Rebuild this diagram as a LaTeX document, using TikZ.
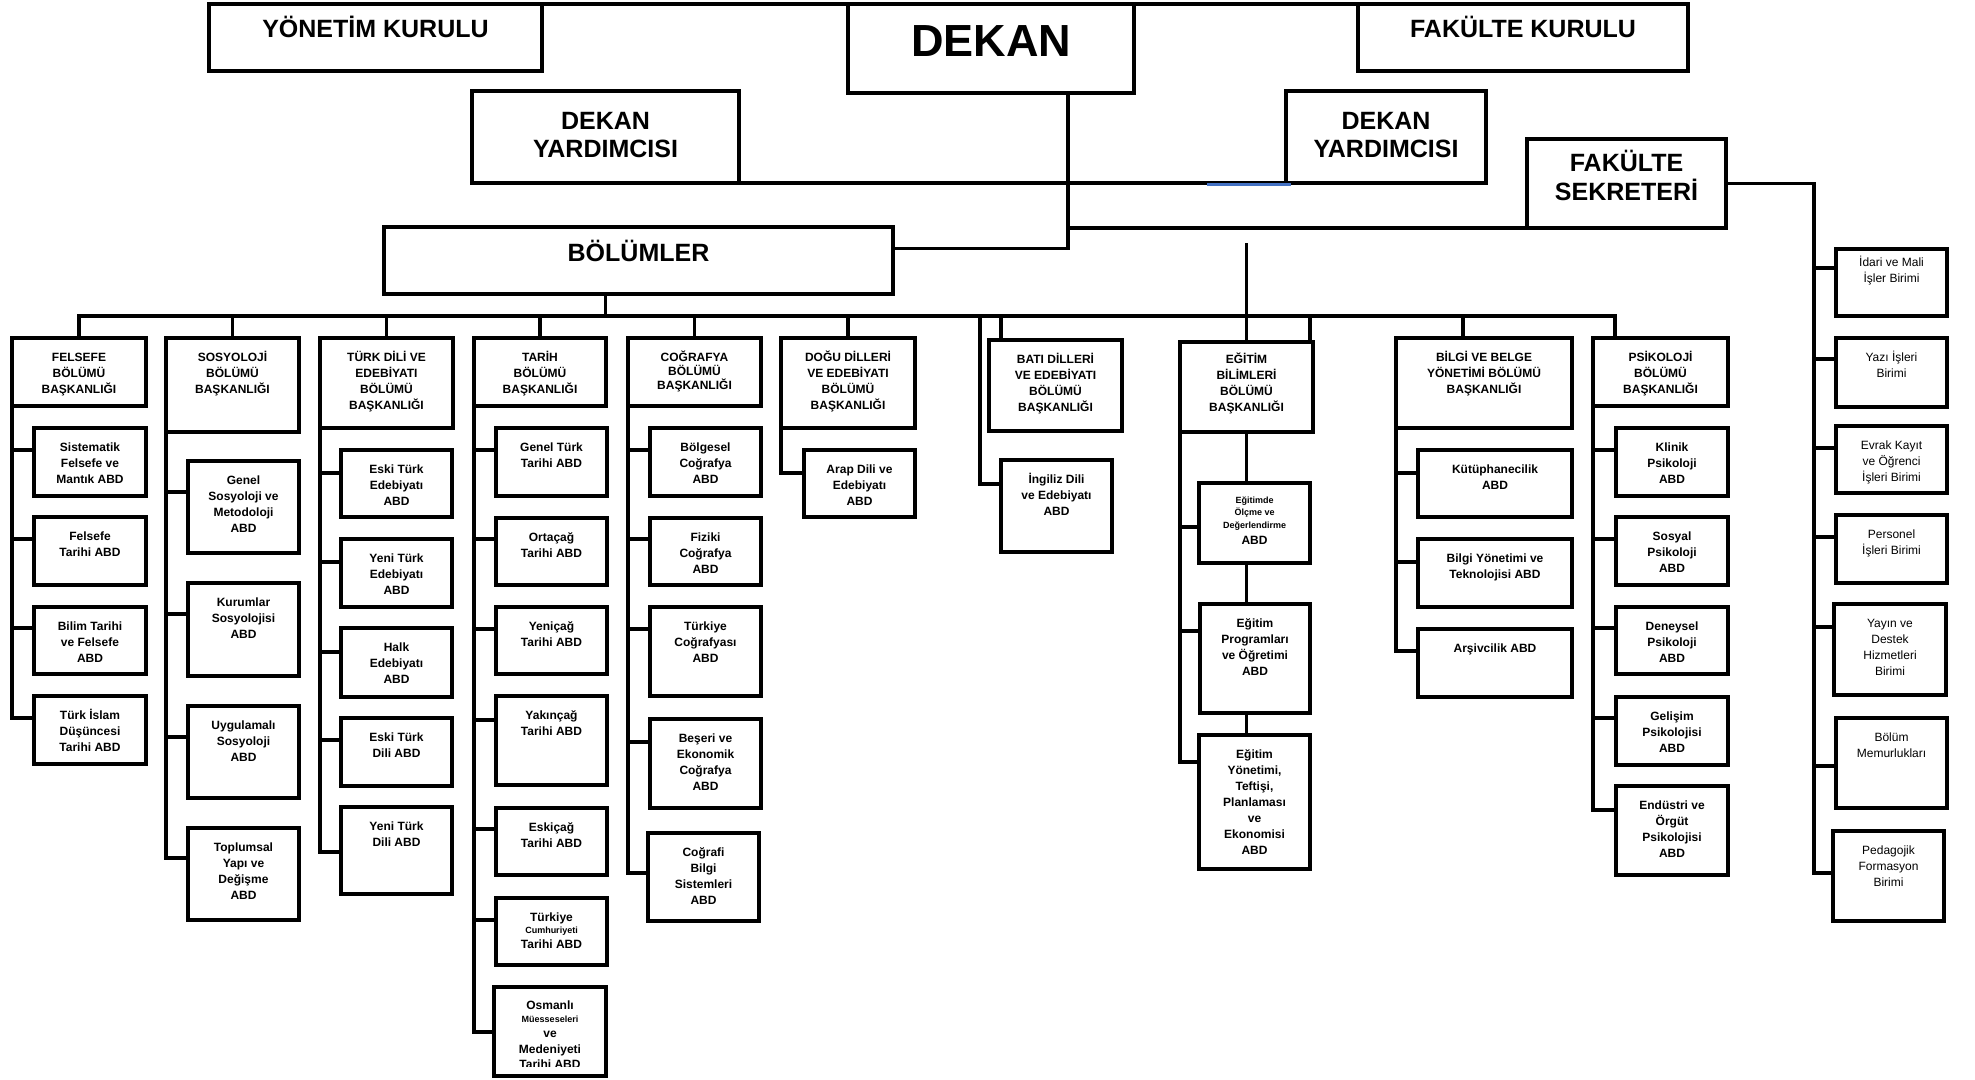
\documentclass[tikz,border=0pt]{standalone}
\usepackage{fontspec}
\setmainfont{Liberation Sans}
\usetikzlibrary{fit}
\definecolor{blu}{RGB}{68,114,196}
\newcommand\sm{\fontsize{9bp}{11bp}\selectfont}
\newcommand\mkbox[7][]{%
  \node[bx, fit={(#3,#4) (#5,#6)}] (#2) {};
  \node[txt, #1] (#2-t) at ([yshift=-11bp]#2.north) {\rule{0pt}{12bp}#7};}
\newcommand\tie[3]{%
  \coordinate (#2c) at ([yshift=-#3bp]#2.north west);
  \draw[conn] (#1 |- #2c) -- (#2c);}
\begin{document}
\begin{tikzpicture}[x=1bp,y=-1bp,
  bx/.style={draw, line width=3.5bp, fill=white, inner sep=0pt, outer sep=0pt},
  tbx/.style={draw, line width=4.5bp, fill=white, inner sep=0pt, outer sep=0pt},
  conn/.style={line width=3.5bp, line cap=rect},
  txt/.style={anchor=north, inner sep=0pt, align=center, font=\fontsize{12bp}{16bp}\selectfont\bfseries},
  reg/.style={font=\fontsize{12bp}{16bp}\selectfont},
  big/.style={inner sep=0pt, anchor=base, font=\fontsize{25bp}{28bp}\selectfont\bfseries}]
\fill[white] (0,0) rectangle (1975,1079);
\useasboundingbox (0,0) rectangle (1975,1079);

% ---------- top level ----------
\node[tbx, fit={(209,4) (542,71)}] (yk) {};
\node[tbx, fit={(848,4) (1134,93)}] (dek) {};
\node[tbx, fit={(1358,4) (1688,71)}] (fk) {};
\node[tbx, fit={(472,91) (739,183)}] (dyl) {};
\node[tbx, fit={(1286,91) (1486,183)}] (dyr) {};
\node[tbx, fit={(1527,139) (1726,228)}] (fs) {};
\node[tbx, fit={(384,227) (893,294)}] (bol) {};

\node[big] (yk-t) at ([yshift=-33bp]yk.north) {YÖNETİM KURULU};
\node[big, font=\fontsize{45bp}{50bp}\selectfont\bfseries] (dek-t) at ([yshift=-52bp]dek.north) {DEKAN};
\node[big] (fk-t) at ([yshift=-33bp]fk.north) {FAKÜLTE KURULU};
\node[big, anchor=north, align=center] (dyl-t) at ([yshift=-18bp]dyl.north) {\rule{0pt}{20bp}DEKAN\\YARDIMCISI};
\node[big, anchor=north, align=center] (dyr-t) at ([yshift=-18bp]dyr.north) {\rule{0pt}{20bp}DEKAN\\YARDIMCISI};
\node[big, anchor=north, align=center, font=\fontsize{25bp}{29bp}\selectfont\bfseries] (fs-t) at ([yshift=-9bp]fs.north) {\rule{0pt}{23bp}FAKÜLTE\\SEKRETERİ};
\node[big] (bol-t) at ([yshift=-34bp]bol.north) {BÖLÜMLER};

\draw[conn] (yk.north east) -- (dek.north west);
\draw[conn] (dek.north east) -- (fk.north west);
\draw[conn] (dyl.south east) -- (dyr.south west);
\draw[line width=2.5bp, blu] ([xshift=-79bp, yshift=-1.5bp]dyr.south west) -- ([xshift=5bp, yshift=-1.5bp]dyr.south west);
\coordinate (dk) at ([xshift=77bp]dek.south);
\draw[conn] (dk) |- ([yshift=12bp]bol.east);
\draw[conn] (dk |- fs.south west) -- (fs.south west);

% ---------- departments ----------
\mkbox{fel}{12}{338}{146}{406}{FELSEFE\\BÖLÜMÜ\\BAŞKANLIĞI}
\mkbox{sos}{166}{338}{299}{432}{SOSYOLOJİ\\BÖLÜMÜ\\BAŞKANLIĞI}
\mkbox{tde}{320}{338}{453}{428}{TÜRK DİLİ VE\\EDEBİYATI\\BÖLÜMÜ\\BAŞKANLIĞI}
\mkbox{tar}{474}{338}{606}{406}{TARİH\\BÖLÜMÜ\\BAŞKANLIĞI}
\mkbox[font=\fontsize{12bp}{14bp}\selectfont\bfseries]{cog}{628}{338}{761}{406}{COĞRAFYA\\BÖLÜMÜ\\BAŞKANLIĞI}
\mkbox{dog}{781}{338}{915}{428}{DOĞU DİLLERİ\\VE EDEBİYATI\\BÖLÜMÜ\\BAŞKANLIĞI}
\mkbox{bat}{989}{340}{1122}{431}{BATI DİLLERİ\\VE EDEBİYATI\\BÖLÜMÜ\\BAŞKANLIĞI}
\mkbox[yshift=2bp]{egi}{1180}{342}{1313}{432}{EĞİTİM\\BİLİMLERİ\\BÖLÜMÜ\\BAŞKANLIĞI}
\mkbox{bil}{1396}{338}{1572}{428}{BİLGİ VE BELGE\\YÖNETİMİ BÖLÜMÜ\\BAŞKANLIĞI}
\mkbox{psi}{1593}{338}{1728}{406}{PSİKOLOJİ\\BÖLÜMÜ\\BAŞKANLIĞI}

% bus and drops
\coordinate (busR) at (1615,316);
\coordinate (bd) at ([xshift=-33bp]bol.south);
\draw[conn] (bd) -- (bd |- busR);
\draw[conn] (fel.north) |- (busR) -- (busR |- psi.north);
\foreach \n in {sos,tde,tar,cog,dog} {\draw[conn] (\n.north) -- (\n.north |- busR);}
\coordinate (bt) at ([xshift=12bp]bat.north west);
\draw[conn] (bt |- busR) -- (bt);
\coordinate (egtop) at ([yshift=99bp]egi.north);
\draw[line width=3bp] (egtop) -- (egi.north);
\coordinate (er) at ([xshift=-3bp]egi.north east);
\draw[conn] (er |- busR) -- (er);
\coordinate (bb) at ([xshift=67bp]bil.north west);
\draw[conn] (bb |- busR) -- (bb);

% ---------- Felsefe ----------
\mkbox{sis}{34}{428}{146}{496}{Sistematik\\Felsefe ve\\Mantık ABD}
\mkbox{fta}{34}{517}{146}{585}{Felsefe\\Tarihi ABD}
\mkbox{bta}{34}{607}{146}{674}{Bilim Tarihi\\ve Felsefe\\ABD}
\mkbox{tid}{34}{696}{146}{764}{Türk İslam\\Düşüncesi\\Tarihi ABD}
\tie{fel.south west}{sis}{22}\tie{fel.south west}{fta}{22}
\tie{fel.south west}{bta}{21}\tie{fel.south west}{tid}{22}
\draw[conn] (fel.south west) -- (fel.south west |- tidc);

% ---------- Sosyoloji ----------
\mkbox{gso}{188}{461}{299}{553}{Genel\\Sosyoloji ve\\Metodoloji\\ABD}
\mkbox{kur}{188}{583}{299}{676}{Kurumlar\\Sosyolojisi\\ABD}
\mkbox{uyg}{188}{706}{299}{798}{Uygulamalı\\Sosyoloji\\ABD}
\mkbox{tys}{188}{828}{299}{920}{Toplumsal\\Yapı ve\\Değişme\\ABD}
\tie{sos.south west}{gso}{31}\tie{sos.south west}{kur}{31}
\tie{sos.south west}{uyg}{31}\tie{sos.south west}{tys}{30}
\draw[conn] (sos.south west) -- (sos.south west |- tysc);

% ---------- TDE ----------
\mkbox{ete}{341}{450}{452}{517}{Eski Türk\\Edebiyatı\\ABD}
\mkbox{yte}{341}{539}{452}{607}{Yeni Türk\\Edebiyatı\\ABD}
\mkbox{hal}{341}{628}{452}{697}{Halk\\Edebiyatı\\ABD}
\mkbox{etd}{341}{718}{452}{786}{Eski Türk\\Dili ABD}
\mkbox{ytd}{341}{807}{452}{894}{Yeni Türk\\Dili ABD}
\tie{tde.south west}{ete}{23}\tie{tde.south west}{yte}{23}
\tie{tde.south west}{hal}{24}\tie{tde.south west}{etd}{22}
\tie{tde.south west}{ytd}{45}
\draw[conn] (tde.south west) -- (tde.south west |- ytdc);

% ---------- Tarih ----------
\mkbox{gtt}{496}{428}{607}{496}{Genel Türk\\Tarihi ABD}
\mkbox{ort}{496}{518}{607}{585}{Ortaçağ\\Tarihi ABD}
\mkbox{yen}{496}{607}{607}{674}{Yeniçağ\\Tarihi ABD}
\mkbox{yak}{496}{696}{607}{785}{Yakınçağ\\Tarihi ABD}
\mkbox{esk}{496}{808}{607}{875}{Eskiçağ\\Tarihi ABD}
\mkbox{tcu}{496}{898}{607}{965}{Türkiye\\[-4bp]{\sm Cumhuriyeti}\\[-1bp]Tarihi ABD}
\node[bx, fit={(494,987) (606,1076)}] (osm) {};
\begin{scope}
\clip (osm.north west) rectangle ([yshift=10bp]osm.south east);
\node[txt] (osm-t) at ([yshift=-10bp]osm.north) {\rule{0pt}{12bp}Osmanlı\\[-3bp]{\sm Müesseseleri}\\[-1bp]ve\\Medeniyeti\\[-1bp]Tarihi ABD};
\end{scope}
\tie{tar.south west}{gtt}{22}\tie{tar.south west}{ort}{21}
\tie{tar.south west}{yen}{22}\tie{tar.south west}{yak}{24}
\tie{tar.south west}{esk}{21}\tie{tar.south west}{tcu}{22}
\tie{tar.south west}{osm}{45}
\draw[conn] (tar.south west) -- (tar.south west |- osmc);

% ---------- Coğrafya ----------
\mkbox{bgc}{650}{428}{761}{496}{Bölgesel\\Coğrafya\\ABD}
\mkbox{fiz}{650}{518}{761}{585}{Fiziki\\Coğrafya\\ABD}
\mkbox{tco}{650}{607}{761}{696}{Türkiye\\Coğrafyası\\ABD}
\mkbox{bes}{650}{719}{761}{808}{Beşeri ve\\Ekonomik\\Coğrafya\\ABD}
\mkbox{cbs}{648}{833}{759}{921}{Coğrafi\\Bilgi\\Sistemleri\\ABD}
\tie{cog.south west}{bgc}{22}\tie{cog.south west}{fiz}{21}
\tie{cog.south west}{tco}{22}\tie{cog.south west}{bes}{23}
\tie{cog.south west}{cbs}{40}
\draw[conn] (cog.south west) -- (cog.south west |- cbsc);

% ---------- Doğu / Batı ----------
\mkbox{arap}{804}{450}{915}{517}{Arap Dili ve\\Edebiyatı\\ABD}
\tie{dog.south west}{arap}{23}
\draw[conn] (dog.south west) -- (dog.south west |- arapc);
\mkbox{ing}{1001}{460}{1112}{552}{İngiliz Dili\\ve Edebiyatı\\ABD}
\coordinate (iv) at ([xshift=-21bp]ing.north west);
\coordinate (ingc) at ([yshift=-24bp]ing.north west);
\draw[conn] (iv |- busR) |- (ingc);

% ---------- Eğitim ----------
\mkbox[yshift=3bp]{olc}{1199}{483}{1310}{563}{{\sm Eğitimde}\\[-4bp]{\sm Ölçme ve}\\[-3bp]{\sm Değerlendirme}\\ABD}
\mkbox{prog}{1200}{604}{1310}{713}{Eğitim\\Programları\\ve Öğretimi\\ABD}
\mkbox{yon}{1199}{735}{1310}{869}{Eğitim\\Yönetimi,\\Teftişi,\\Planlaması\\ve\\Ekonomisi\\ABD}
\tie{egi.south west}{olc}{44}\tie{egi.south west}{prog}{27}\tie{egi.south west}{yon}{27}
\draw[conn] (egi.south west) -- (egi.south west |- yonc);
\draw[conn] (egi.south) -- (egi.south |- olc.north);
\draw[conn] (egi.south |- olc.south) -- (egi.south |- prog.north);
\draw[conn] (egi.south |- prog.south) -- (egi.south |- yon.north);

% ---------- Bilgi ve Belge ----------
\mkbox{kut}{1418}{450}{1572}{517}{Kütüphanecilik\\ABD}
\mkbox{bly}{1418}{539}{1572}{607}{Bilgi Yönetimi ve\\Teknolojisi ABD}
\mkbox{ars}{1418}{629}{1572}{697}{Arşivcilik ABD}
\tie{bil.south west}{kut}{23}\tie{bil.south west}{bly}{23}\tie{bil.south west}{ars}{22}
\draw[conn] (bil.south west) -- (bil.south west |- arsc);

% ---------- Psikoloji ----------
\mkbox{kli}{1616}{428}{1728}{496}{Klinik\\Psikoloji\\ABD}
\mkbox{sps}{1616}{517}{1728}{585}{Sosyal\\Psikoloji\\ABD}
\mkbox{den}{1616}{607}{1728}{674}{Deneysel\\Psikoloji\\ABD}
\mkbox{gel}{1616}{697}{1728}{765}{Gelişim\\Psikolojisi\\ABD}
\mkbox{ends}{1616}{786}{1728}{875}{Endüstri ve\\Örgüt\\Psikolojisi\\ABD}
\tie{psi.south west}{kli}{22}\tie{psi.south west}{sps}{22}
\tie{psi.south west}{den}{21}\tie{psi.south west}{gel}{21}
\tie{psi.south west}{ends}{24}
\draw[conn] (psi.south west) -- (psi.south west |- endsc);

% ---------- Fakülte Sekreteri units ----------
\mkbox[reg, yshift=6bp]{ida}{1836}{249}{1947}{316}{İdari ve Mali\\İşler Birimi}
\mkbox[reg]{yaz}{1836}{338}{1947}{407}{Yazı İşleri\\Birimi}
\mkbox[reg]{evr}{1836}{426}{1947}{493}{Evrak Kayıt\\ve Öğrenci\\İşleri Birimi}
\mkbox[reg]{per}{1836}{515}{1947}{583}{Personel\\İşleri Birimi}
\mkbox[reg]{yay}{1834}{604}{1946}{695}{Yayın ve\\Destek\\Hizmetleri\\Birimi}
\mkbox[reg]{bme}{1836}{718}{1947}{808}{Bölüm\\Memurlukları}
\mkbox[reg]{ped}{1833}{831}{1944}{921}{Pedagojik\\Formasyon\\Birimi}
\coordinate (fsv) at ([xshift=88bp]fs.east);
\tie{fsv}{ida}{19}\tie{fsv}{yaz}{21}\tie{fsv}{evr}{22}\tie{fsv}{per}{22}
\tie{fsv}{yay}{23}\tie{fsv}{bme}{48}\tie{fsv}{ped}{42}
\draw[conn] (fs.east) -- (fsv) -- (fsv |- pedc);
\end{tikzpicture}
\end{document}
